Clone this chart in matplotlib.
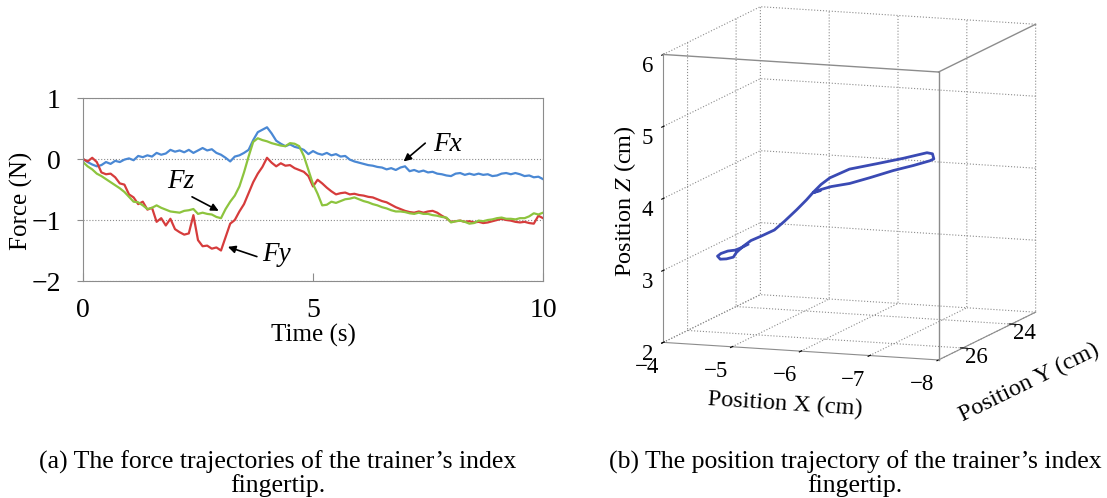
import numpy as np
import matplotlib
matplotlib.use("Agg")
import matplotlib.pyplot as plt

plt.rcParams["font.family"] = ["Liberation Serif", "DejaVu Serif"]
plt.rcParams["mathtext.fontset"] = "custom"
plt.rcParams["mathtext.rm"] = "Liberation Serif"
plt.rcParams["mathtext.it"] = "Liberation Serif:italic"
plt.rcParams["grid.color"] = "#8c8c8c"
plt.rcParams["grid.linestyle"] = ":"
plt.rcParams["grid.linewidth"] = 0.8

# ---------------------------------------------------------------- data ----
time_s = np.round(np.arange(0, 10.01, 0.1), 1)
fx = [0.00, -0.05, -0.09, -0.12, -0.10, -0.05, -0.08, -0.03, -0.05, -0.01,
      0.01, -0.02, 0.05, 0.03, 0.06, 0.04, 0.10, 0.07, 0.09, 0.15,
      0.12, 0.14, 0.11, 0.15, 0.10, 0.14, 0.18, 0.14, 0.16, 0.10,
      0.07, 0.02, -0.04, 0.04, 0.06, 0.10, 0.15, 0.31, 0.44, 0.48,
      0.52, 0.42, 0.30, 0.25, 0.21, 0.24, 0.20, 0.18, 0.15, 0.08,
      0.13, 0.09, 0.07, 0.10, 0.06, 0.08, 0.04, 0.05, -0.01, -0.04,
      -0.06, -0.08, -0.10, -0.11, -0.13, -0.14, -0.17, -0.15, -0.18, -0.14,
      -0.12, -0.20, -0.18, -0.21, -0.19, -0.22, -0.21, -0.24, -0.25, -0.27,
      -0.28, -0.24, -0.23, -0.26, -0.24, -0.26, -0.24, -0.26, -0.25, -0.28,
      -0.27, -0.24, -0.23, -0.25, -0.23, -0.25, -0.28, -0.27, -0.30, -0.29,
      -0.33]
fy = [0.00, -0.04, 0.02, -0.05, -0.22, -0.25, -0.24, -0.30, -0.40, -0.42,
      -0.58, -0.63, -0.74, -0.70, -0.83, -0.80, -1.03, -0.97, -1.09, -0.98,
      -1.15, -1.20, -1.24, -1.22, -0.92, -1.33, -1.43, -1.42, -1.47, -1.45,
      -1.50, -1.28, -1.06, -1.00, -0.86, -0.74, -0.56, -0.38, -0.24, -0.13,
      0.02, -0.06, -0.12, -0.07, -0.11, -0.10, -0.15, -0.18, -0.21, -0.28,
      -0.45, -0.34, -0.40, -0.47, -0.53, -0.58, -0.56, -0.55, -0.58, -0.57,
      -0.59, -0.60, -0.62, -0.63, -0.66, -0.69, -0.71, -0.75, -0.79, -0.82,
      -0.85, -0.87, -0.88, -0.86, -0.88, -0.86, -0.85, -0.88, -0.93, -0.97,
      -1.03, -1.02, -1.01, -1.03, -1.02, -1.04, -1.03, -1.05, -1.04, -1.02,
      -1.00, -0.98, -1.00, -1.01, -1.03, -1.04, -1.03, -1.05, -1.06, -0.93,
      -0.97]
fz = [-0.05, -0.12, -0.17, -0.24, -0.28, -0.33, -0.38, -0.43, -0.48, -0.54,
      -0.62, -0.70, -0.71, -0.76, -0.82, -0.80, -0.76, -0.80, -0.83, -0.86,
      -0.87, -0.88, -0.85, -0.84, -0.82, -0.90, -0.88, -0.90, -0.91, -0.95,
      -0.97, -0.82, -0.70, -0.60, -0.45, -0.22, 0.04, 0.28, 0.34, 0.31,
      0.29, 0.26, 0.24, 0.22, 0.21, 0.26, 0.25, 0.21, 0.05, -0.18,
      -0.41, -0.57, -0.76, -0.75, -0.70, -0.72, -0.69, -0.66, -0.65, -0.63,
      -0.66, -0.69, -0.71, -0.74, -0.76, -0.79, -0.81, -0.84, -0.86, -0.86,
      -0.87, -0.89, -0.90, -0.88, -0.90, -0.90, -0.92, -0.93, -0.95, -0.96,
      -1.04, -1.02, -1.01, -1.03, -1.06, -1.05, -1.01, -1.02, -1.00, -0.99,
      -0.97, -0.96, -0.98, -0.98, -0.99, -0.97, -0.97, -0.94, -0.89, -0.91,
      -0.88]

# fingertip position trajectory (cm)
pos_x = [-4.84, -4.75, -4.66, -4.55, -4.45, -4.40, -4.44, -4.53, -4.63, -4.64,
         -4.70, -4.78, -4.89, -5.05, -5.16, -5.30, -5.41, -5.48, -5.57, -5.68,
         -5.93, -6.29, -6.64, -6.95, -7.03, -7.05, -7.01, -6.79, -6.53, -6.23,
         -5.95, -5.70, -5.57, -5.48, -5.57]
pos_y = [25.9, 25.9, 25.9, 25.9, 25.9, 25.9, 25.9, 25.9, 25.9, 25.8,
         25.7, 25.6, 25.5, 25.4, 25.3, 25.2, 25.1, 25.0, 24.95, 24.9,
         24.8, 24.7, 24.6, 24.5, 24.5, 24.5, 24.55, 24.6, 24.7, 24.8,
         24.85, 24.9, 24.95, 25.0, 25.0]
pos_z = [3.23, 3.18, 3.14, 3.12, 3.08, 3.04, 3.00, 3.01, 3.04, 3.09,
         3.16, 3.23, 3.28, 3.36, 3.47, 3.62, 3.75, 3.85, 3.95, 4.04,
         4.16, 4.24, 4.32, 4.40, 4.39, 4.32, 4.30, 4.23, 4.16, 4.06,
         3.97, 3.92, 3.88, 3.84, 3.87]

BLUE, RED, GREEN = "#4a88d4", "#d63c3c", "#8dc43e"
FRAME = "#8c8c8c"

fig = plt.figure(figsize=(11.07, 4.98), dpi=100)

# ------------------------------------------------------ (a) force plot ----
ax = fig.add_axes([83 / 1107, 1 - 281 / 498, 460 / 1107, 183 / 498])
ax.plot(time_s, fx, color=BLUE, lw=1.6)
ax.plot(time_s, fy, color=RED, lw=1.6)
ax.plot(time_s, fz, color=GREEN, lw=1.6)
ax.set_xlim(0, 10)
ax.set_ylim(-2, 1)
ax.set_xticks([0, 5, 10])
ax.set_yticks([-2, -1, 0, 1])
ax.grid(axis="y")
for s in ax.spines.values():
    s.set_color(FRAME)
ax.tick_params(axis="x", direction="in", length=6, color=FRAME,
               labelsize=20, pad=12)
ax.tick_params(axis="y", direction="out", length=4, color=FRAME,
               labelsize=20, pad=12)
ax.set_xlabel("Time (s)", fontsize=18, labelpad=1)
ax.set_ylabel("Force (N)", fontsize=18)
ax.yaxis.set_label_coords(-0.108, 0.44)

arrow = dict(arrowstyle="-|>", color="black", lw=1.2,
             shrinkA=0, shrinkB=0, mutation_scale=11)
ax.annotate("", xy=(6.97, -0.04), xytext=(7.44, 0.26), arrowprops=arrow)
ax.text(7.62, 0.23, "Fx", fontsize=19.5, style="italic", va="center")
ax.annotate("", xy=(2.95, -0.85), xytext=(2.37, -0.62), arrowprops=arrow)
ax.text(2.12, -0.37, "Fz", fontsize=19.5, style="italic", va="center", ha="center")
ax.annotate("", xy=(3.15, -1.44), xytext=(3.78, -1.60), arrowprops=arrow)
ax.text(4.21, -1.57, "Fy", fontsize=19.5, style="italic", va="center", ha="center")

# --------------------------------------------------- (b) position plot ----
ax3 = fig.add_axes([0.562, 0.18, 0.40, 0.88], projection="3d", proj_type="ortho")
ax3.view_init(elev=10.2, azim=109.8)
ax3.set_box_aspect((1, 0.98, 1), zoom=1.115)
ax3.plot(pos_x, pos_y, pos_z, color="#3a4ab4", lw=2)
ax3.set_xlim(-8, -4)
ax3.set_ylim(23, 27)
ax3.set_zlim(2, 6)
ax3.set_xticks([-8, -7, -6, -5, -4])
ax3.set_yticks([24, 26])
ax3.set_zticks([2, 3, 4, 5, 6])
ax3.zaxis.set_ticks_position("upper")
ax3.zaxis.set_label_position("upper")

# close the box: the three edges meeting at the near corner
x0, x1 = ax3.get_xlim()
y0, y1 = ax3.get_ylim()
z0, z1 = ax3.get_zlim()
for xs, ys, zs in [([x0, x0], [y1, y1], [z0, z1]),
                   ([x0, x1], [y1, y1], [z1, z1]),
                   ([x0, x0], [y0, y1], [z1, z1])]:
    ax3.plot(xs, ys, zs, color=FRAME, lw=1)

for axis in (ax3.xaxis, ax3.yaxis, ax3.zaxis):
    axis.set_pane_color((1, 1, 1, 0))
    axis.pane.set_edgecolor(FRAME)
    axis.line.set_color(FRAME)
    axis._axinfo["tick"]["color"] = FRAME
ax3.tick_params(labelsize=16.5)
ax3.tick_params(axis="x", pad=-1)
ax3.tick_params(axis="y", pad=0)
ax3.tick_params(axis="z", pad=-1)
for lbl in ax3.xaxis.get_ticklabels():
    lbl.set_horizontalalignment("right")
for lbl in ax3.yaxis.get_ticklabels():
    lbl.set_verticalalignment("baseline")
ax3.set_xlabel("Position X (cm)", fontsize=17.5, labelpad=5)
ax3.set_ylabel("Position Y (cm)", fontsize=17.5, labelpad=4)
ax3.set_zlabel(r"Position $\mathit{Z}$ (cm)", fontsize=17.5, labelpad=-4)

# -------------------------------------------------------------- captions ----
fig.text(278 / 1107, 1 - 474 / 498,
         "(a) The force trajectories of the trainer\u2019s index\nfingertip.",
         ha="center", va="center", fontsize=18.5, linespacing=1.0)
fig.text(855 / 1107, 1 - 474 / 498,
         "(b) The position trajectory of the trainer\u2019s index\nfingertip.",
         ha="center", va="center", fontsize=18.5, linespacing=1.0)

fig.savefig("out.png", dpi=100)
